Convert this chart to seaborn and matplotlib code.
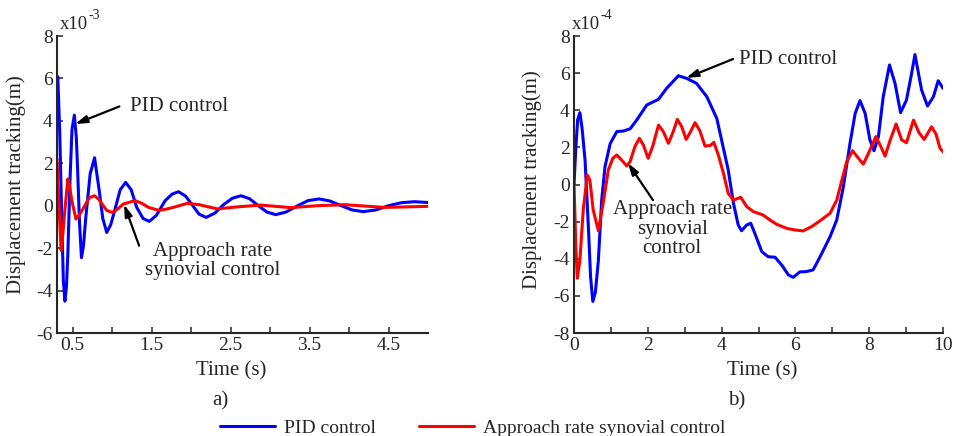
import numpy as np
import pandas as pd
import matplotlib
matplotlib.use("Agg")
import matplotlib.pyplot as plt
import seaborn as sns
from matplotlib.transforms import offset_copy

# ---------------- data ----------------
series_names = ["PID control", "Approach rate synovial control"]

# panel a) (values x1e-3 m)
a_time_pid = [0.30, 0.31, 0.335, 0.36, 0.38, 0.40, 0.42, 0.437, 0.466, 0.49, 0.52, 0.545,
              0.56, 0.585, 0.61, 0.635, 0.665, 0.72, 0.776, 0.835, 0.88, 0.93, 0.98, 1.03,
              1.10, 1.17, 1.24, 1.31, 1.39, 1.47, 1.56, 1.67, 1.76, 1.84, 1.93, 2.02, 2.10,
              2.19, 2.30, 2.41, 2.52, 2.63, 2.74, 2.85, 2.96, 3.07, 3.20, 3.35, 3.48, 3.62,
              3.76, 3.90, 4.04, 4.18, 4.34, 4.50, 4.66, 4.83, 5.00]
a_pid = [5.9, 6.08, 3.4, -0.55, -3.5, -4.5, -3.8, -2.29, 1.34, 3.6, 4.27, 3.2,
         1.82, -0.8, -2.45, -1.9, -0.55, 1.5, 2.26, 0.71, -0.6, -1.26, -0.9, -0.24,
         0.75, 1.1, 0.75, -0.08, -0.6, -0.74, -0.45, 0.24, 0.55, 0.66, 0.45, 0.0, -0.4,
         -0.55, -0.35, 0.05, 0.35, 0.47, 0.33, 0.0, -0.3, -0.42, -0.3, 0.0, 0.24, 0.32,
         0.22, 0.0, -0.2, -0.28, -0.2, 0.0, 0.14, 0.19, 0.15]
a_time_smc = [0.30, 0.315, 0.33, 0.352, 0.37, 0.395, 0.437, 0.46, 0.488, 0.54, 0.58, 0.64,
              0.71, 0.776, 0.83, 0.87, 0.93, 1.0, 1.07, 1.14, 1.29, 1.38, 1.46, 1.59, 1.70,
              1.80, 1.95, 2.10, 2.33, 2.60, 2.88, 3.26, 3.60, 3.94, 4.45, 5.0]
a_smc = [2.2, 0.8, -0.4, -2.1, -1.5, -0.4, 1.26, 0.9, 0.24, -0.63, -0.45, -0.08,
         0.38, 0.47, 0.3, 0.08, -0.22, -0.32, -0.15, 0.08, 0.24, 0.1, -0.08, -0.22, -0.15,
         -0.05, 0.11, 0.05, -0.15, -0.05, 0.03, -0.09, 0.0, 0.05, -0.08, -0.03]

# panel b) (values x1e-4 m)
b_time_pid = [0.00, 0.05, 0.10, 0.16, 0.22, 0.30, 0.39, 0.45, 0.51, 0.58, 0.66, 0.75, 0.84,
              0.98, 1.16, 1.34, 1.52, 1.70, 1.97, 2.29, 2.51, 2.83, 3.05, 3.32, 3.60, 3.87,
              3.96, 4.18, 4.32, 4.45, 4.54, 4.68, 4.79, 4.90, 5.09, 5.26, 5.45, 5.63, 5.81,
              5.94, 6.12, 6.30, 6.48, 6.67, 6.94, 7.12, 7.30, 7.48, 7.62, 7.75, 7.89, 8.02,
              8.13, 8.25, 8.38, 8.55, 8.70, 8.85, 9.01, 9.15, 9.24, 9.42, 9.58, 9.74, 9.87,
              10.0]
b_pid = [0.0, 2.0, 3.5, 3.87, 3.0, 1.3, -2.3, -5.0, -6.3, -5.8, -4.1, -0.84, 0.96,
         2.2, 2.85, 2.88, 3.0, 3.47, 4.28, 4.59, 5.18, 5.86, 5.72, 5.45, 4.73, 3.56,
         2.75, 0.78, -1.0, -2.18, -2.49, -2.18, -2.09, -2.63, -3.62, -3.89, -3.92, -4.34, -4.87,
         -5.0, -4.71, -4.69, -4.6, -3.89, -2.81, -1.91, -0.12, 2.22, 3.83, 4.52, 3.83, 2.4,
         1.82, 2.58, 4.73, 6.44, 5.45, 3.87, 4.55, 5.99, 7.0, 5.09, 4.23, 4.73, 5.59,
         5.18]
b_time_smc = [0.00, 0.05, 0.09, 0.16, 0.25, 0.36, 0.43, 0.52, 0.66, 0.79, 0.93, 1.05, 1.16,
              1.29, 1.43, 1.52, 1.65, 1.77, 1.88, 2.01, 2.13, 2.29, 2.42, 2.56, 2.69, 2.80,
              2.92, 3.04, 3.16, 3.28, 3.41, 3.55, 3.69, 3.79, 3.91, 4.05, 4.18, 4.32, 4.52,
              4.68, 4.86, 5.12, 5.31, 5.49, 5.76, 5.99, 6.21, 6.44, 6.67, 6.94, 7.12, 7.26,
              7.39, 7.55, 7.71, 7.84, 7.98, 8.18, 8.31, 8.43, 8.57, 8.73, 8.88, 9.01, 9.20,
              9.35, 9.49, 9.69, 9.81, 9.92, 10.0]
b_smc = [0.06, -3.35, -5.05, -4.07, -1.37, 0.51, 0.24, -1.37, -2.49, -1.01, 0.78, 1.41, 1.59,
         1.32, 1.0, 1.23, 2.04, 2.49, 2.13, 1.41, 2.04, 3.2, 2.85, 2.22, 2.85, 3.51,
         3.11, 2.43, 2.85, 3.33, 2.9, 2.07, 2.1, 2.27, 1.6, 0.6, -0.48, -0.84, -0.69,
         -1.19, -1.46, -1.64, -1.91, -2.14, -2.36, -2.45, -2.5, -2.27, -1.95, -1.55, -0.84, 0.24,
         1.23, 1.82, 1.41, 1.1, 1.68, 2.58, 2.07, 1.53, 2.4, 3.26, 2.4, 2.25, 3.47,
         2.79, 2.43, 3.11, 2.72, 1.95, 1.77]

a_xticks = [0.5, 1.0, 1.5, 2.0, 2.5, 3.0, 3.5, 4.0, 4.5]
a_xticklabels = ["0.5", "", "1.5", "", "2.5", "", "3.5", "", "4.5"]
a_yticks = [-6, -4, -2, 0, 2, 4, 6, 8]
b_xticks = [0, 1, 2, 3, 4, 5, 6, 7, 8, 9, 10]
b_xticklabels = ["0", "", "2", "", "4", "", "6", "", "8", "", "10"]
b_yticks = [-8, -6, -4, -2, 0, 2, 4, 6, 8]
a_exponent = "-3"
b_exponent = "-4"

# ---------------- style ----------------
sns.set_style("ticks")
plt.rcParams["font.family"] = ["Liberation Serif", "DejaVu Serif"]
plt.rcParams["axes.unicode_minus"] = False
plt.rcParams["xtick.direction"] = "in"
plt.rcParams["ytick.direction"] = "in"

palette = {series_names[0]: "#0000ff", series_names[1]: "#ff0000"}
FS_TICK = 14
FS_LAB = 15

def frame(t1, y1, t2, y2):
    return pd.concat([
        pd.DataFrame({"t": t1, "y": y1, "s": series_names[0]}),
        pd.DataFrame({"t": t2, "y": y2, "s": series_names[1]}),
    ], ignore_index=True)

df_a = frame(a_time_pid, a_pid, a_time_smc, a_smc)
df_b = frame(b_time_pid, b_pid, b_time_smc, b_smc)

fig = plt.figure(figsize=(9.57, 4.36), dpi=100)
ax1 = fig.add_axes([57 / 957, 103 / 436, 371 / 957, 297 / 436])
ax2 = fig.add_axes([574 / 957, 103 / 436, 369 / 957, 297 / 436])

for ax, df in ((ax1, df_a), (ax2, df_b)):
    sns.lineplot(data=df, x="t", y="y", hue="s", palette=palette, ax=ax,
                 linewidth=2.2, sort=False, estimator=None, legend=True)
    sns.despine(ax=ax)
    for sp in ("left", "bottom"):
        ax.spines[sp].set_linewidth(1.5)
    ax.tick_params(axis="both", labelsize=FS_TICK, length=4, width=1.1, pad=3)
    ax.set_ylabel("Displacement tracking(m)", fontsize=FS_LAB)
    ax.set_xlabel("Time (s)", fontsize=FS_LAB)

handles, labels = ax1.get_legend_handles_labels()
ax1.get_legend().remove()
ax2.get_legend().remove()

# panel a axes
ax1.set_xlim(0.3, 5.0)
ax1.set_ylim(-6, 8)
ax1.set_xticks(a_xticks)
ax1.set_xticklabels(a_xticklabels)
ax1.set_yticks(a_yticks)
ax1.xaxis.set_label_coords((231 - 57) / 371, -0.095)
ax1.yaxis.set_label_coords(-0.084, 0.5)

# panel b axes
ax2.set_xlim(0, 10)
ax2.set_ylim(-8, 8)
ax2.set_xticks(b_xticks)
ax2.set_xticklabels(b_xticklabels)
ax2.set_yticks(b_yticks)
ax2.xaxis.set_label_coords(0.51, -0.095)
ax2.yaxis.set_label_coords(-0.087, 0.515)

# scale multipliers "x10^-n"
def multiplier(ax, xfrac, exp):
    base = ax.text(xfrac, 1.01, "x10", transform=ax.transAxes,
                   fontsize=13.5, ha="left", va="bottom")
    fig.canvas.draw()
    bb = base.get_window_extent()
    inv = fig.transFigure.inverted()
    x1, y1 = inv.transform((bb.x1, bb.y1))
    fig.text(x1 + 0.5 / 957, y1 - 6 / 436, exp, fontsize=10, ha="left", va="bottom")

multiplier(ax1, 0.008, a_exponent)
multiplier(ax2, -0.005, b_exponent)

arrow = dict(arrowstyle="-|>,head_length=0.7,head_width=0.22", color="black",
             lw=1.6, shrinkA=0, shrinkB=0)

# annotations panel a
ax1.annotate("", xy=(0.53, 3.85), xytext=(1.09, 4.68), arrowprops=arrow)
ax1.text(1.85, 4.68, "PID control", fontsize=FS_LAB, ha="center", va="center")
ax1.annotate("", xy=(1.15, 0.06), xytext=(1.34, -1.88), arrowprops=arrow)
ax1.text(2.27, -2.62, "Approach rate\nsynovial control", fontsize=FS_LAB,
         ha="center", va="center", linespacing=1.0)

# annotations panel b
ax2.annotate("", xy=(3.04, 5.74), xytext=(4.31, 6.76), arrowprops=arrow)
ax2.text(5.8, 6.71, "PID control", fontsize=FS_LAB, ha="center", va="center")
ax2.annotate("", xy=(1.46, 1.16), xytext=(2.14, -0.84), arrowprops=arrow)
ax2.text(2.66, -2.4, "Approach rate\nsynovial\ncontrol", fontsize=FS_LAB,
         ha="center", va="center", linespacing=1.05)

fig.text(220 / 957, 1 - 401 / 436, "a)", fontsize=FS_LAB, ha="center", va="center")
fig.text(737 / 957, 1 - 401 / 436, "b)", fontsize=FS_LAB, ha="center", va="center")

fig.legend(handles, labels, loc="center", bbox_to_anchor=(473 / 957, 1 - 428 / 436),
           ncol=2, frameon=False, fontsize=14, handlelength=2.8, handletextpad=0.5,
           columnspacing=2.2, borderpad=0, borderaxespad=0)
for h in fig.legends[0].get_lines():
    h.set_linewidth(2.2)

fig.savefig("out.png", dpi=100)
